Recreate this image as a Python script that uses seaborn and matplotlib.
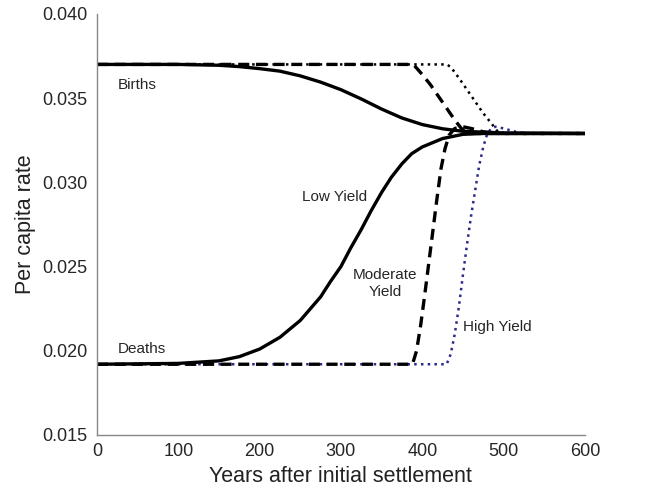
import pandas as pd
import seaborn as sns
import matplotlib.pyplot as plt

# Low yield (solid)
low_birth_years = [0, 100, 150, 175, 200, 225, 250, 275, 300, 325, 350, 375, 400, 425, 450,
                   500, 600]
low_birth_rate = [0.0370, 0.0370, 0.03695, 0.03687, 0.03675, 0.03660, 0.03632, 0.03595, 0.03550,
                  0.03495, 0.03435, 0.03382, 0.03343, 0.03318, 0.03303, 0.03293, 0.0329]
low_death_years = [0, 100, 150, 175, 200, 225, 250, 275, 287, 300, 312, 325, 337, 350, 362,
                   375, 387, 400, 425, 450, 475, 600]
low_death_rate = [0.0192, 0.01925, 0.0194, 0.01965, 0.0201, 0.0208, 0.0218, 0.0232, 0.0241,
                  0.0250, 0.0261, 0.0272, 0.0283, 0.0294, 0.0303, 0.0311, 0.0317, 0.0321,
                  0.0326, 0.03285, 0.0329, 0.0329]

# Moderate yield (dashed)
mod_birth_years = [0, 385, 390, 400, 410, 420, 430, 440, 448, 455, 470, 600]
mod_birth_rate = [0.0370, 0.0370, 0.03695, 0.0364, 0.0358, 0.0351, 0.0344, 0.0337, 0.0332,
                  0.03295, 0.0329, 0.0329]
mod_death_years = [0, 388, 393, 398, 403, 408, 413, 418, 423, 428, 433, 440, 450, 460, 475, 490, 600]
mod_death_rate = [0.0192, 0.0192, 0.0200, 0.0215, 0.0233, 0.0252, 0.0271, 0.0290, 0.0308,
                  0.0320, 0.0328, 0.0332, 0.0333, 0.0332, 0.0330, 0.0329, 0.0329]

# High yield (dotted)
high_birth_years = [0, 430, 435, 445, 455, 465, 475, 485, 493, 505, 600]
high_birth_rate = [0.0370, 0.0370, 0.03685, 0.0362, 0.0355, 0.0348, 0.0341, 0.0335, 0.0330,
                   0.0329, 0.0329]
high_death_years = [0, 430, 435, 440, 445, 450, 455, 460, 465, 470, 475, 480, 485, 490, 500,
                    515, 530, 600]
high_death_rate = [0.0192, 0.0192, 0.0198, 0.0210, 0.0226, 0.0245, 0.0263, 0.0280, 0.0295,
                   0.0310, 0.0321, 0.0329, 0.0332, 0.0333, 0.0332, 0.0330, 0.0329, 0.0329]

x_ticks = [0, 100, 200, 300, 400, 500, 600]
y_ticks = [0.015, 0.020, 0.025, 0.030, 0.035, 0.040]

sns.set_style('white')
plt.rcParams['font.family'] = ['Liberation Sans', 'DejaVu Sans']

fig = plt.figure(figsize=(6.55, 4.96), dpi=100)
ax = fig.add_axes([0.148, 0.123, 0.745, 0.849])

lw = 2.4
dot = dict(lw=1.8, linestyle=(0, (1, 1.7)), solid_capstyle='butt', dash_capstyle='butt')
dash = dict(lw=lw, linestyle=(0, (3.3, 2.0)), dash_capstyle='butt')
solid = dict(lw=lw, solid_joinstyle='round', solid_capstyle='butt')

sns.lineplot(x=high_death_years, y=high_death_rate, ax=ax, color='#2a2a8c', **dot)
sns.lineplot(x=high_birth_years, y=high_birth_rate, ax=ax, color='black', **dot)
sns.lineplot(x=mod_death_years, y=mod_death_rate, ax=ax, color='black', **dash)
sns.lineplot(x=mod_birth_years, y=mod_birth_rate, ax=ax, color='black', **dash)
sns.lineplot(x=low_death_years, y=low_death_rate, ax=ax, color='black', **solid)
sns.lineplot(x=low_birth_years, y=low_birth_rate, ax=ax, color='black', **solid)

ax.set_xlim(0, 600)
ax.set_ylim(0.015, 0.040)
ax.set_xticks(x_ticks)
ax.set_yticks(y_ticks)
ax.set_yticklabels([f'{v:.3f}' for v in y_ticks])
ax.tick_params(axis='x', direction='in', length=4, color='#777777', labelsize=13, pad=6)
ax.tick_params(axis='y', direction='out', length=4, color='#777777', labelsize=13, pad=3)
for side in ['top', 'right']:
    ax.spines[side].set_visible(False)
for side in ['left', 'bottom']:
    ax.spines[side].set_color('#888888')
    ax.spines[side].set_linewidth(1.0)

ax.set_xlabel('Years after initial settlement', fontsize=15.5, color='#222222')
ax.set_ylabel('Per capita rate', fontsize=15.5, color='#222222')

ax.text(26, 0.0358, 'Births', fontsize=11, ha='left', va='center')
ax.text(26, 0.0201, 'Deaths', fontsize=11, ha='left', va='center')
ax.text(292, 0.0291, 'Low Yield', fontsize=11, ha='center', va='center')
ax.text(354, 0.0240, 'Moderate\nYield', fontsize=11, ha='center', va='center',
        linespacing=1.25)
ax.text(450, 0.0214, 'High Yield', fontsize=11, ha='left', va='center')

fig.savefig('out.png', dpi=100)
